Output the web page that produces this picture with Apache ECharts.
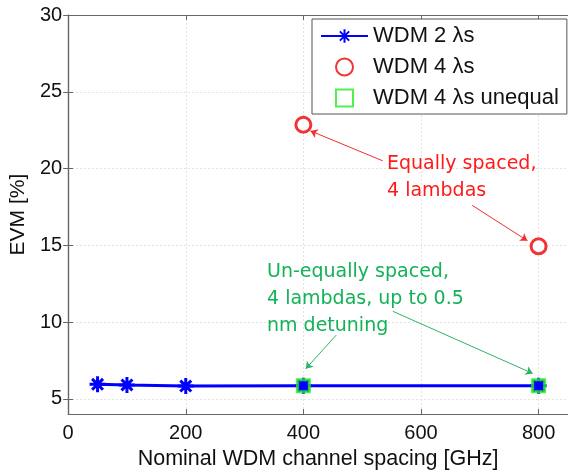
<!DOCTYPE html>
<html>
<head>
<meta charset="utf-8">
<script src="https://cdn.jsdelivr.net/npm/echarts@6/dist/echarts.min.js"></script>
<style>html,body{margin:0;padding:0;background:#fff}#c{width:568px;height:475px}</style>
</head>
<body>
<div id="c"></div>
<script>
// ---- data ----
const xSpacing2 = [50, 100, 200, 400, 800];
const evm2 = [5.94, 5.90, 5.83, 5.85, 5.85];
const xSpacing4 = [400, 800];
const evm4 = [22.85, 14.93];
const xSpacing4u = [400, 800];
const evm4u = [5.85, 5.85];
const xTicks = [0, 200, 400, 600, 800];
const yTicks = [5, 10, 15, 20, 25, 30];
const seriesNames = ['WDM 2 \u03BBs', 'WDM 4 \u03BBs', 'WDM 4 \u03BBs unequal'];
const redNote = 'Equally spaced,\n4 lambdas';
const greenNote = 'Un-equally spaced,\n4 lambdas, up to 0.5\nnm detuning';
// annotation arrows (data coordinates): [fromX, fromY, toX, toY]
const redArrows = [[535, 20.5, 412, 22.45], [687, 17.6, 781, 15.3]];
const greenArrows = [[456, 9.15, 404, 6.95], [552, 10.7, 790, 6.65]];

const zip = (xs, ys) => xs.map((x, i) => [x, ys[i]]);
const axisGrey = '#666';
const asterisk = 'path://M5,0L5,10M0,5L10,5M1.6,1.6L8.4,8.4M8.4,1.6L1.6,8.4';
const square = 'path://M0,0L10,0L10,10L0,10Z';
const font = 'Liberation Sans, Arial, sans-serif';

const chart = echarts.init(document.getElementById('c'), null, {renderer: 'canvas'});

function arrowLines(list) {
  return list.map(a => [{coord: [a[0], a[1]]}, {coord: [a[2], a[3]]}]);
}

const baseX = {
  type: 'value', min: 0, max: 850,
  axisLine: {show: true, lineStyle: {color: axisGrey, width: 1.2}},
  axisTick: {show: true, inside: true, length: 5, customValues: xTicks, lineStyle: {color: axisGrey}},
  axisLabel: {customValues: xTicks, color: '#111', fontFamily: font, fontSize: 20, margin: 9},
  splitLine: {show: true, lineStyle: {color: '#e2e2e2', type: [2, 2], width: 1}}
};
const baseY = {
  type: 'value', min: 4, max: 30,
  axisLine: {show: true, lineStyle: {color: axisGrey, width: 1.2}},
  axisTick: {show: true, inside: true, length: 5, customValues: yTicks, lineStyle: {color: axisGrey}},
  axisLabel: {customValues: yTicks, color: '#111', fontFamily: font, fontSize: 20, margin: 6},
  splitLine: {show: true, lineStyle: {color: '#e2e2e2', type: [2, 2], width: 1}}
};

chart.setOption({
  animation: false,
  grid: {left: 65, top: 15, width: 505, height: 404, containLabel: false},
  xAxis: [
    Object.assign({}, baseX, {
      position: 'bottom',
      name: 'Nominal WDM channel spacing [GHz]', nameLocation: 'middle', nameGap: 31,
      nameTextStyle: {color: '#111', fontFamily: font, fontSize: 21.5}
    }),
    Object.assign({}, baseX, {position: 'top', axisLabel: {show: false}, splitLine: {show: false}})
  ],
  yAxis: [
    Object.assign({}, baseY, {
      position: 'left',
      name: 'EVM [%]', nameLocation: 'middle', nameGap: 36,
      nameTextStyle: {color: '#111', fontFamily: font, fontSize: 21}
    }),
    Object.assign({}, baseY, {position: 'right', axisLabel: {show: false}, splitLine: {show: false}})
  ],
  legend: {
    orient: 'vertical', left: 312, top: 19,
    padding: [6, 8, 5, 8], itemGap: 9, itemWidth: 47, itemHeight: 17,
    backgroundColor: '#fff', borderColor: '#555', borderWidth: 1, borderRadius: 0,
    textStyle: {color: '#111', fontFamily: font, fontSize: 22},
    data: [
      {name: seriesNames[0]},
      {name: seriesNames[1]},
      {name: seriesNames[2], itemStyle: {color: '#fff'}}
    ]
  },
  series: [
    {
      name: seriesNames[0], type: 'line', data: zip(xSpacing2, evm2),
      symbol: asterisk, symbolSize: 16, showAllSymbol: true, symbolKeepAspect: true,
      lineStyle: {color: '#0000ff', width: 3},
      itemStyle: {color: '#0000ff', borderColor: '#0000ff', borderWidth: 3},
      emphasis: {disabled: true}, z: 3
    },
    {
      name: seriesNames[1], type: 'scatter', data: zip(xSpacing4, evm4),
      symbol: 'circle', symbolSize: 15,
      itemStyle: {color: '#fff', borderColor: '#ee0000', borderWidth: 3},
      emphasis: {disabled: true}, z: 4,
      markLine: {
        silent: true, symbol: ['none', 'arrow'], symbolSize: 7,
        label: {show: false}, emphasis: {disabled: true},
        lineStyle: {color: '#f03030', width: 1, type: 'solid'},
        data: arrowLines(redArrows)
      }
    },
    {
      name: seriesNames[2], type: 'scatter', data: zip(xSpacing4u, evm4u),
      symbol: square, symbolSize: 12, symbolKeepAspect: true,
      itemStyle: {color: '#0000ff', borderColor: '#22ee22', borderWidth: 3},
      emphasis: {disabled: true}, z: 5,
      markLine: {
        silent: true, symbol: ['none', 'arrow'], symbolSize: 7,
        label: {show: false}, emphasis: {disabled: true},
        lineStyle: {color: '#2db36a', width: 1, type: 'solid'},
        data: arrowLines(greenArrows)
      }
    }
  ],
  graphic: [
    {type: 'text', left: 387, top: 151, z: 10,
     style: {text: redNote, fill: '#ff1a1a', font: '19px "DejaVu Sans", sans-serif', lineHeight: 27}},
    {type: 'text', left: 267, top: 259, z: 10,
     style: {text: greenNote, fill: '#12b257', font: '19px "DejaVu Sans", sans-serif', lineHeight: 27}}
  ]
});
</script>
</body>
</html>
